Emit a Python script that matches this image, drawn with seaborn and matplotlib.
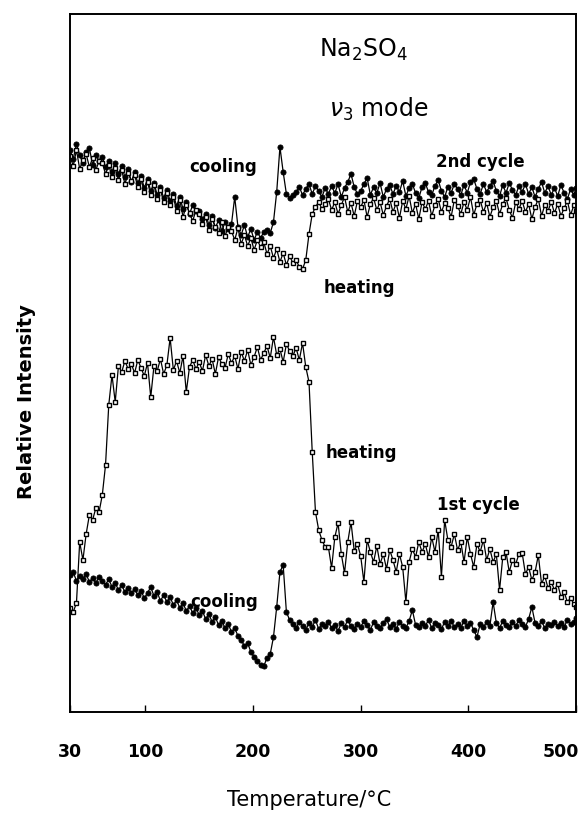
import matplotlib
matplotlib.use("Agg")
import matplotlib.pyplot as plt
import matplotlib.transforms as mtransforms
import pandas as pd
import seaborn as sns

# Temperature grid of the Raman scans (deg C)
temperature = [
    30, 33, 36, 39, 42, 45, 48, 51, 54, 57,
    60, 63, 66, 69, 72, 75, 78, 81, 84, 87,
    90, 93, 96, 99, 102, 105, 108, 111, 114, 117,
    120, 123, 126, 129, 132, 135, 138, 141, 144, 147,
    150, 153, 156, 159, 162, 165, 168, 171, 174, 177,
    180, 183, 186, 189, 192, 195, 198, 201, 204, 207,
    210, 213, 216, 219, 222, 225, 228, 231, 234, 237,
    240, 243, 246, 249, 252, 255, 258, 261, 264, 267,
    270, 273, 276, 279, 282, 285, 288, 291, 294, 297,
    300, 303, 306, 309, 312, 315, 318, 321, 324, 327,
    330, 333, 336, 339, 342, 345, 348, 351, 354, 357,
    360, 363, 366, 369, 372, 375, 378, 381, 384, 387,
    390, 393, 396, 399, 402, 405, 408, 411, 414, 417,
    420, 423, 426, 429, 432, 435, 438, 441, 444, 447,
    450, 453, 456, 459, 462, 465, 468, 471, 474, 477,
    480, 483, 486, 489, 492, 495, 498, 500,
]

# nu3 band intensity, second cycle, heating (open squares)
heating_2nd = [
    556, 546, 562, 543, 552, 558, 545, 554, 542, 551,
    549, 538, 547, 535, 544, 532, 542, 528, 539, 531,
    537, 525, 533, 520, 530, 517, 527, 513, 522, 510,
    519, 507, 515, 501, 512, 495, 507, 499, 491, 502,
    498, 488, 495, 482, 493, 485, 479, 490, 476, 485,
    481, 472, 484, 468, 477, 466, 474, 462, 472, 465,
    470, 458, 466, 454, 463, 450, 459, 447, 456, 449,
    452, 445, 443, 452, 478, 498, 505, 510, 503, 508,
    513, 502, 510, 498, 507, 515, 500, 509, 496, 511,
    505, 512, 495, 508, 514, 502, 510, 497, 506, 513,
    500, 509, 494, 511, 503, 516, 499, 508, 493, 510,
    503, 511, 496, 507, 513, 500, 509, 504, 495, 512,
    506, 498, 510, 502, 515, 497, 508, 512, 500, 509,
    495, 505, 511, 498, 508, 514, 502, 494, 510, 503,
    511, 500, 508, 493, 505, 513, 496, 507, 501, 510,
    499, 508, 496, 504, 511, 497, 507, 501,
]

# nu3 band intensity, second cycle, cooling (filled circles)
cooling_2nd = [
    562, 553, 568, 557, 549, 560, 564, 547, 557, 551,
    555, 545, 551, 540, 549, 538, 546, 535, 543, 530,
    540, 529, 536, 524, 533, 521, 529, 517, 525, 514,
    522, 511, 518, 506, 515, 503, 510, 498, 507, 501,
    501, 493, 498, 487, 496, 484, 492, 481, 490, 483,
    488, 515, 485, 477, 487, 475, 483, 472, 480, 474,
    480, 482, 479, 490, 520, 565, 540, 518, 514, 517,
    520, 525, 517, 523, 528, 518, 526, 521, 515, 524,
    518, 526, 519, 528, 515, 524, 530, 538, 525, 518,
    521, 528, 534, 517, 525, 519, 529, 515, 523, 527,
    518, 526, 520, 531, 516, 524, 528, 519, 514, 525,
    529, 520, 517, 526, 532, 521, 515, 525, 519, 528,
    523, 517, 527, 519, 530, 533, 523, 518, 528, 520,
    526, 531, 521, 516, 527, 519, 529, 522, 517, 526,
    520, 528, 518, 525, 515, 523, 530, 519, 526, 517,
    524, 516, 527, 519, 513, 523, 517, 524,
]

# nu3 band intensity, first cycle, heating (open squares)
heating_1st = [
    104, 100, 109, 170, 152, 178, 197, 192, 204, 200,
    217, 247, 307, 337, 310, 346, 340, 351, 343, 348,
    339, 352, 344, 336, 349, 315, 346, 341, 353, 338,
    347, 374, 342, 351, 339, 356, 320, 345, 352, 343,
    350, 341, 357, 346, 353, 338, 355, 348, 344, 358,
    349, 356, 343, 360, 351, 362, 347, 355, 365, 352,
    359, 366, 354, 375, 357, 363, 350, 368, 361, 356,
    364, 352, 369, 345, 330, 260, 200, 182, 172, 165,
    165, 144, 175, 189, 158, 139, 170, 190, 161, 168,
    156, 130, 172, 160, 150, 166, 148, 158, 143, 162,
    152, 140, 158, 145, 110, 150, 163, 155, 170, 160,
    168, 155, 175, 160, 182, 135, 192, 172, 165, 178,
    162, 170, 150, 175, 158, 145, 168, 160, 172, 152,
    163, 150, 158, 122, 155, 160, 140, 152, 148, 158,
    159, 138, 145, 132, 140, 157, 128, 136, 124, 130,
    122, 128, 115, 120, 110, 114, 108, 105,
]

# nu3 band intensity, first cycle, cooling (filled circles)
cooling_1st = [
    137, 140, 131, 136, 133, 138, 130, 134, 129, 135,
    131, 127, 133, 125, 129, 122, 127, 120, 124, 119,
    123, 117, 121, 114, 119, 125, 116, 120, 111, 117,
    110, 115, 107, 112, 104, 109, 101, 106, 99, 104,
    97, 101, 93, 98, 90, 95, 87, 91, 84, 88,
    80, 84, 76, 72, 66, 69, 60, 55, 51, 47,
    46, 54, 58, 75, 105, 140, 147, 100, 92, 88,
    84, 90, 86, 82, 89, 85, 92, 83, 88, 86,
    90, 84, 87, 81, 89, 85, 92, 86, 83, 88,
    85, 91, 87, 82, 90, 86, 84, 89, 93, 85,
    88, 83, 90, 86, 84, 91, 102, 87, 85, 89,
    86, 92, 84, 89, 87, 83, 90, 86, 91, 85,
    88, 84, 91, 86, 89, 82, 75, 88, 85, 90,
    86, 110, 89, 84, 91, 87, 85, 90, 86, 92,
    88, 85, 93, 105, 89, 86, 91, 84, 88, 87,
    90, 86, 89, 85, 92, 88, 90, 94,
]

x_tick_values = [30, 100, 200, 300, 400, 500]
x_tick_labels = ["30", "100", "200", "300", "400", "500"]

# Curve annotations: (text, temperature, intensity)
annotations = [
    ("cooling", 172, 545),
    ("2nd cycle", 411, 550),
    ("heating", 299, 424),
    ("heating", 301, 259),
    ("1st cycle", 409, 207),
    ("cooling", 173, 110),
]

sns.set_style("ticks")
plt.rcParams["font.family"] = ["DejaVu Sans"]
plt.rcParams["mathtext.fontset"] = "dejavusans"
plt.rcParams["text.color"] = "black"
plt.rcParams["xtick.color"] = "black"
plt.rcParams["xtick.labelcolor"] = "black"

fig = plt.figure(figsize=(5.87, 8.22), dpi=100)
ax = fig.add_axes([70 / 587, 110 / 822, 506 / 587, 698 / 822])

circle_style = dict(marker="o", markersize=3.7, markerfacecolor="black",
                    markeredgecolor="black", markeredgewidth=0.6)
square_style = dict(marker="s", markersize=3.4, markerfacecolor="white",
                    markeredgecolor="black", markeredgewidth=1.0)

frame = pd.DataFrame({
    "temperature": temperature,
    "heating_2nd": heating_2nd,
    "cooling_2nd": cooling_2nd,
    "heating_1st": heating_1st,
    "cooling_1st": cooling_1st,
})

for column, style in [("cooling_2nd", circle_style), ("heating_2nd", square_style),
                      ("cooling_1st", circle_style), ("heating_1st", square_style)]:
    sns.lineplot(data=frame, x="temperature", y=column, ax=ax, color="black",
                 linewidth=0.9, sort=False, estimator=None, **style)

ax.set_xlim(30, 500)
ax.set_ylim(0, 698)
ax.set_yticks([])
ax.set_xticks(x_tick_values)
ax.set_xticklabels(x_tick_labels, fontsize=12.5, fontweight="bold", color="black")
ax.tick_params(axis="x", direction="in", length=5, width=1.0, pad=22, colors="black")
ax.set_xlabel("")
ax.set_ylabel("")
for spine in ax.spines.values():
    spine.set_visible(True)
    spine.set_linewidth(1.4)
    spine.set_color("black")

# pull the last tick label inside the frame edge
last = ax.get_xticklabels()[-1]
last.set_transform(last.get_transform() +
                   mtransforms.ScaledTranslation(-0.15, 0, fig.dpi_scale_trans))

for text, t, val in annotations:
    ax.text(t, val, text, ha="center", va="center", fontsize=12,
            fontweight="bold", color="black")

ax.text(303, 662, r"Na$_2$SO$_4$", ha="center", va="center", fontsize=17, color="black")
ax.text(317, 603, r"$\nu_3$ mode", ha="center", va="center", fontsize=17, color="black")

fig.text(27 / 587, 1 - 402 / 822, "Relative Intensity", rotation=90,
         ha="center", va="center", fontsize=14, fontweight="bold", color="black")
fig.text(309 / 587, 1 - 800 / 822, "Temperature/°C", ha="center", va="center",
         fontsize=15, color="black")

fig.savefig("out.png", dpi=100)
